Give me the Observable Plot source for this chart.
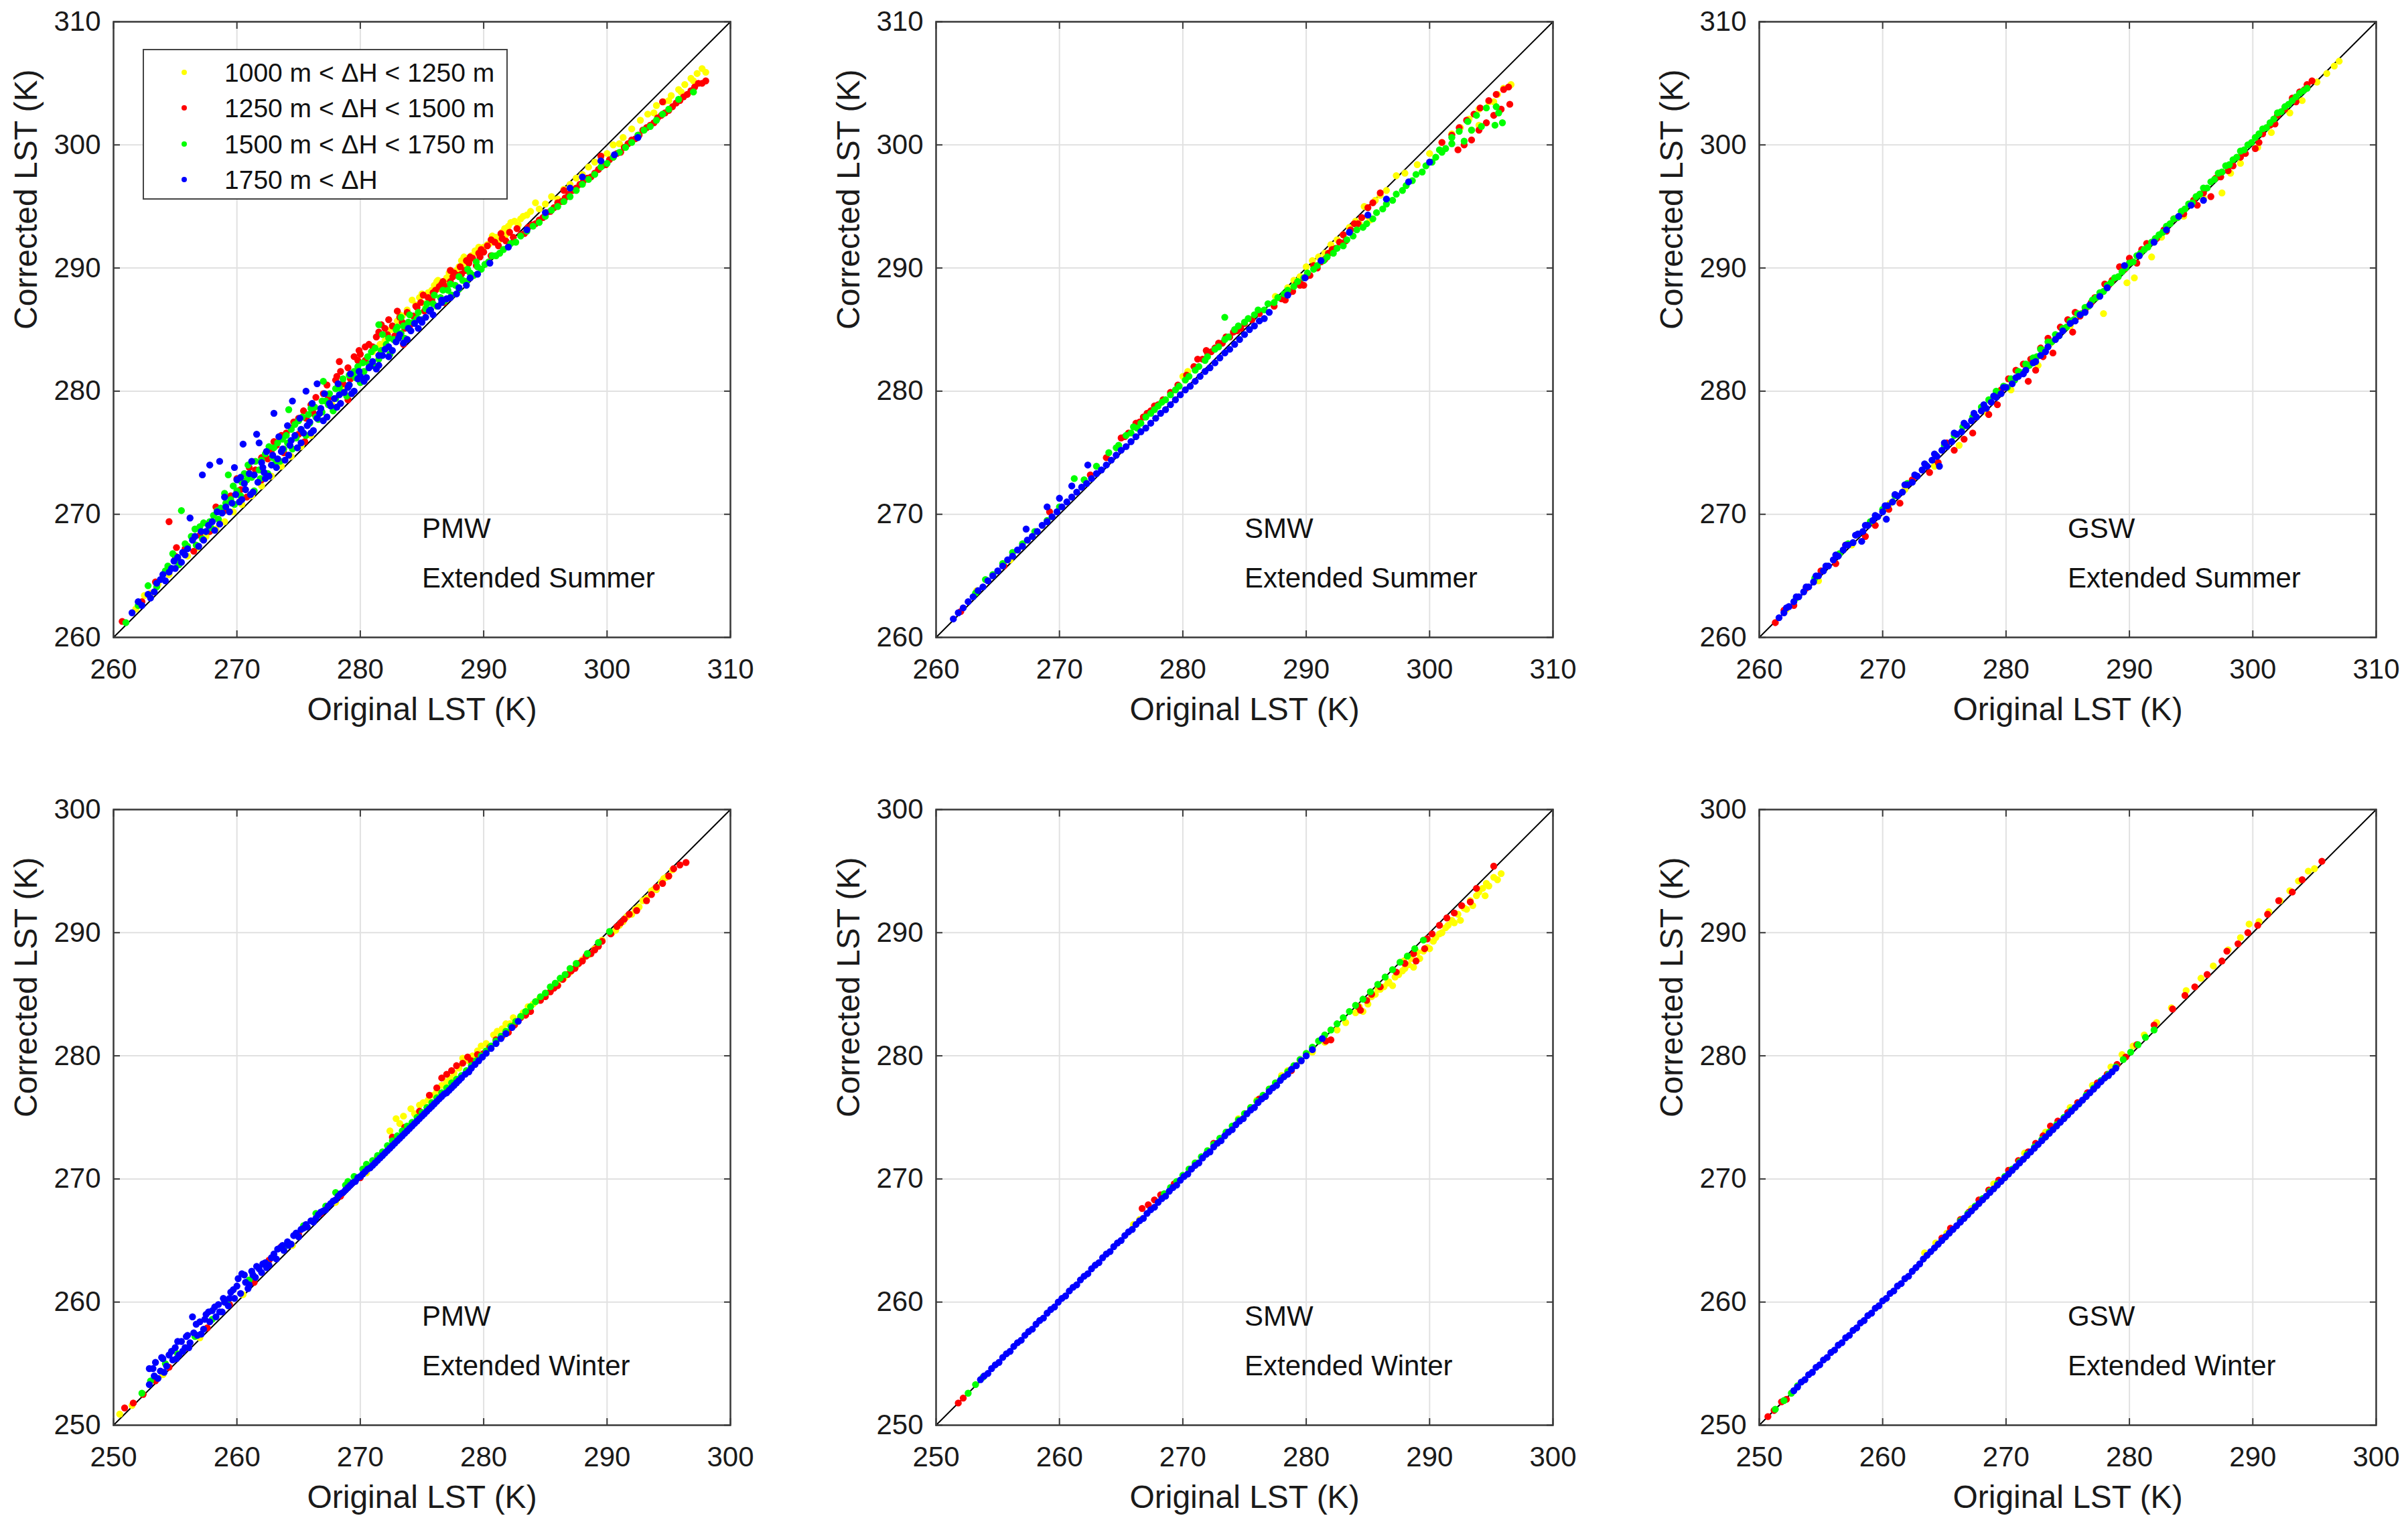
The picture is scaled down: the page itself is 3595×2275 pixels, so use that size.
<!DOCTYPE html>
<html>
<head>
<meta charset="utf-8">
<script src="https://cdn.jsdelivr.net/npm/d3@7"></script>
<script src="https://cdn.jsdelivr.net/npm/@observablehq/plot@0.6"></script>
<style>
html, body { margin: 0; padding: 0; background: #fff; overflow: hidden; }
#fig { position: relative; width: 3595px; height: 2275px; background: #fff; font-family: "Liberation Sans", Arial, sans-serif; }
.panel { position: absolute; }
.panel svg { max-width: none !important; }
#legend { position: absolute; box-sizing: border-box; background: #fff; border: 2.5px solid #444; }
.lg-item { position: absolute; left: 0; height: 0; }
.lg-dot { position: absolute; width: 8px; height: 8px; border-radius: 50%; transform: translate(-50%, -50%); }
.lg-txt { position: absolute; white-space: nowrap; font-size: 39px; color: #111; transform: translateY(-50%); line-height: 1; }
</style>
</head>
<body>
<div id="fig"></div>
<script>
// ---------- labels / categories ----------
const seriesNames = ["1000 m < ΔH < 1250 m", "1250 m < ΔH < 1500 m", "1500 m < ΔH < 1750 m", "1750 m < ΔH"];
const seriesColors = ["#ffff00", "#ff0000", "#00ff00", "#0000ff"];
const methods = ["PMW", "SMW", "GSW"];
const seasons = ["Extended Summer", "Extended Winter"];
const summerTicks = [260, 270, 280, 290, 300, 310];
const winterTicks = [250, 260, 270, 280, 290, 300];
const xLabel = "Original LST (K)";
const yLabel = "Corrected LST (K)";

// ---------- data: flat [original, corrected, original, corrected, ...] ----------
// PMW, Extended Summer
const pmwSum1000 = [261.8,262.3, 262.5,263.4, 263,263.6, 263.6,264.3, 264.5,265.1, 265.2,266.4, 266,266.6, 266.8,267.3, 267.5,268.2, 268.3,268.8, 269,269.4, 269.7,270.2, 270.4,270.8, 271.2,271.5, 272,272.3, 272.8,273.1, 273.6,273.9, 274.4,274.7, 275.2,275.5, 276,276.4, 277.7,278.9, 278.5,280.2, 281,283.2, 282,284.1, 283,285.7, 283.8,286.6, 284.2,287.4, 284.8,287.6, 285.2,287.1, 285.5,288, 286,288.6, 286.5,288.3, 287,289.2, 287.5,289.5, 287.8,289.8, 288,290.1, 288.5,290.3, 289,291, 289.5,291.2, 289.8,291.5, 290,291.7, 290.5,292, 291,292.5, 291.2,292.2, 291.5,292.9, 292,293.4, 292.5,293.8, 292.8,293.5, 293,294, 293.5,294.3, 294.2,295.3, 295.5,295.8, 296.5,296.4, 297.5,297.3, 298.5,298.2, 299.5,299, 300.5,300, 301.3,300.6, 302,301.3, 302.7,302, 303.3,302.5, 303.8,302.6, 304,303.2, 304.6,303.5, 305,303.6, 305.2,304, 305.8,304.5, 306,304.3, 306.3,304.9, 306.8,305.4, 307,305.2, 307.3,305.8, 307.7,306.2, 308,305.9,
  283.4,286.1, 284.5,287, 285.8,288.2, 286.3,289, 286.8,288.9, 287.3,289.8, 288.2,290.6, 288.8,290.7, 289.3,291.4, 290.3,291.9, 290.8,292.3, 291.8,292.7, 293.2,294.2, 293.8,294.6, 294.5,294.8, 295,295.2, 296,295.6, 297,296.8, 298,297.6, 299,298.6, 300,299.3, 301,300.1,
  281.6,283.8, 282.5,285, 283.2,286.2, 285,287.9, 286.2,288.9, 287.2,289.6, 288.4,290.9, 289.6,291.7, 290.7,292.6, 291.7,293.2, 292.2,293.7];
const pmwSum1250 = [260.7,261.3, 262.3,262.9, 263.4,264.5, 264.5,269.4, 265,266.6, 265.1,267.3, 265.8,267.2, 266.5,267, 267,268.3, 267.8,268.6, 268.3,270.6, 269,270.3, 269.5,271.5, 270.3,272, 270.8,271.4, 271.5,273.6, 272,272.8, 272.5,274.5, 273.2,275.6, 273.8,275, 274.4,277, 275,276.5, 275.5,275.9, 275.6,277.8, 276.2,278.2, 276.8,278.5, 277.4,279.4, 278.1,281.2, 278.3,282.4, 278.6,280.6, 279,279.3, 279.2,281, 279.8,282.5, 279.9,283.3, 280.4,282.5, 281,283.6, 281.6,283, 281.7,285.4, 282.2,284.6, 282.8,284.5, 283.4,285.6, 283.5,283.8, 284,285.3, 284.6,286.8, 285.2,286.5, 285.8,287.4, 286.4,288.5, 286.8,287.2, 287,288.5, 287.3,289.8, 287.6,289.6, 288.2,289.5, 288.6,290.6, 288.8,290.4, 289.4,290.2, 289.8,291.5, 290,291.3, 290.6,291, 291.2,291.8, 291.8,292.2, 292.4,292.5, 293,292.7, 293.6,293.3, 294.2,293.6, 294.8,294.1, 295.4,294.6, 296,295.3, 296.5,296.3, 296.6,295.7, 297.2,296.3, 297.8,296.8, 298.4,297.3, 299,297.7, 299.5,299.1, 299.6,298.3, 300.2,298.8, 300.8,299.3, 301.4,299.8, 302,300.4, 302.6,300.8, 303.2,301.4, 303.8,301.8, 304.4,302.4, 304.5,303.5, 305,302.8, 305.6,303.4, 306.2,303.9, 306.8,304.4, 307.4,305, 308,305.2,
  270,272.9, 271,273.8, 272,274.6, 273,275.9, 274,276.6, 275,277.8, 276,278.9, 277,279.8, 278,280.9, 279,281.9, 280,283, 280.7,283.8, 281.3,284.4, 282,285.1, 282.6,285.3, 283.2,286, 283.8,286.4, 284.3,286.1, 284.9,287.2, 285.5,287.6, 286.1,288.2, 286.7,288.9, 287.3,288.9, 287.9,289.4, 288.5,289.8, 289.1,290.8, 289.7,290.9, 290.3,291.8, 290.9,292.1, 291.5,292.4, 292.1,292.9, 292.7,293.2, 293.3,292.8, 293.9,293.5, 294.5,293.9, 295.1,294.5, 295.7,294.9, 296.3,295.4, 296.9,296, 297.5,296.5, 298.1,297.1, 298.7,297.4, 299.3,298, 299.9,298.4, 300.5,299, 301.1,299.4, 301.7,300.1, 302.3,300.5, 302.9,301.2, 303.5,301.6, 304.1,302.2, 304.7,302.6, 305.3,303.1, 305.9,303.6, 306.5,304.1, 307.1,304.7, 307.7,305,
  272.8,275.2, 273.6,276.4, 274.6,277.5, 275.4,278.4, 276.4,279.5, 277.3,280.5, 278.4,281.6, 279.5,282.8, 280.4,283.6, 281.5,284.8, 282.3,285.8, 283,286.5, 283.6,285.1, 284.5,286.9, 285.1,287.8, 285.9,288, 286.6,288.7, 287.5,289.3, 288.1,290.1, 288.9,290.9, 289.6,291.2, 290.6,292.3, 291.4,292.8];
const pmwSum1500 = [261,261.2, 262,262.6, 262.8,264.2, 263.5,264.1, 264.2,265.4, 264.8,266.8, 265.3,265.9, 265.5,270.3, 266,267.4, 266.6,268.8, 267.2,268, 267.8,269.4, 268.4,270.3, 269,271.7, 269.3,273.2, 269.8,270.8, 270.4,272.6, 270.9,274, 271.4,271.9, 272,274.4, 272.5,273.3, 273,275.4, 273.5,274.3, 274,276.4, 274.2,278.5, 274.5,275.3, 275,277.6, 275.6,276.4, 276,278.6, 276.6,277.7, 277,280.8, 277.2,279.2, 277.8,278.4, 278.3,280.3, 278.9,279.6, 279.5,281.6, 280,280.7, 280.6,282.8, 281.2,282, 281.5,285.4, 281.8,284.6, 282.4,283, 283,285.2, 283.3,286, 283.6,284.3, 284.3,285.6, 285,285.8, 285.6,286.6, 286.2,286.9, 286.8,287.3, 287.4,287.8, 288,288.3, 288.6,288.9, 289.2,289.4, 289.8,289.9, 290.4,290.5, 291,291, 291.6,291.5, 292.2,292, 293,292.6, 294,293.4, 295,294.2, 296,295, 297,295.8, 298,296.8, 299,297.6, 300,298.5, 301,299.4, 302,300.2, 303,301.2, 304,302, 305,302.9, 305.8,303.7, 307,304.3,
  264.4,265.8, 265,266.3, 265.8,267.6, 266.3,268.2, 267,269, 267.5,268.6, 268.1,269.9, 268.7,270.5, 269.5,271.2, 270,271.9, 270.6,273.3, 271.2,273, 271.8,273.6, 272.3,274.9, 272.9,274.6, 273.3,275.8, 273.8,275.3, 274.4,276.9, 274.8,276.2, 275.3,277.9, 275.9,277.4, 276.3,278.7, 276.9,278.3, 277.5,279.8, 278,279.4, 278.6,281, 279.1,280.5, 279.8,282, 280.3,281.6, 280.9,283.2, 281.5,282.6, 282.1,283.8, 282.7,284.2, 283.3,284.7, 283.9,285.6, 284.6,285.9, 285.3,286.7, 285.9,287.1, 286.5,287.6, 287.1,288.2, 287.7,288.6, 288.3,289, 288.9,289.6, 289.5,290.1, 290.1,290.3, 290.7,291, 291.3,291.2, 292.6,292.1, 293.5,293, 294.5,293.7, 295.5,294.7, 296.5,295.4, 297.5,296.3, 298.5,297.2, 299.5,298.2, 300.5,299, 301.5,299.8, 302.5,300.8, 303.5,301.5, 304.5,302.5,
  266.7,267.5, 267.3,269.3, 267.9,268.9, 268.5,269.6, 269.1,270.9, 269.7,272.3, 270.3,271.5, 270.8,272.8, 271.5,274.3, 271.9,272.9, 272.6,275.5, 273.1,274.1, 273.7,276.1, 274.1,275.8, 274.7,277.3, 275.2,276.9, 275.8,278.1, 276.4,277.9, 276.9,279.2, 277.4,278.9, 278,280.2, 278.5,279.9, 279.1,281.3, 279.6,281.1, 280.2,282.3, 280.7,282.2, 281.2,283.5, 281.7,283.3, 282.3,284.3, 282.9,285, 283.5,285.3, 284,286.2, 284.7,286.4, 285.4,287.1, 286,287.8, 286.7,288.2, 287.3,288.7, 288,289.3, 288.7,289.9, 289.4,290.5];
const pmwSum1750 = [261.5,262, 262.3,262.6, 263,263.2, 263.5,264.4, 264,265.1, 264.7,265.6, 265.2,266.5, 265.8,266.7, 266.2,269.7, 266.6,268.2, 267.2,273.2, 267.3,267.9, 267.8,274, 268,269.4, 268.6,274.3, 268.6,269.2, 269,271.4, 269.4,270.2, 269.8,273.8, 270,272.8, 270.4,271.2, 270.5,275.7, 271,273.3, 271.3,271.8, 271.6,276.5, 271.8,275.8, 272,274.2, 272.3,272.9, 272.8,274, 273,278.2, 273.2,273.8, 273.7,275.3, 274.2,274.8, 274.5,279.2, 274.7,276.4, 275.2,275.8, 275.6,280, 275.7,277.2, 276.2,276.8, 276.5,280.6, 276.8,278.6, 277.3,277.9, 277.9,279.4, 278.4,279, 279,280.3, 279.5,280, 280,281.2, 280.5,281.1, 281,282.4, 281.5,282.1, 282,283.4, 282.6,283.3, 283.2,284.6, 283.8,284.2, 284.4,285.5, 285,285.6, 285.6,286.5, 286.3,286.9, 287,287.5, 287.8,287.9, 288.6,288.6, 289.5,289.5, 290.5,290.4, 292,291.7, 293.5,293.1, 295,294.5, 297,296.5, 298,297.4, 299.5,298.7, 300.6,299.2, 302.5,300.6,
  262.8,263.5, 263.3,263.7, 264.2,264.6, 264.5,265.3, 265,265.6, 265.5,266.1, 266,267.2, 266.9,267.4, 267.5,268.6, 268.2,268.7, 268.8,270.1, 269.6,270.9, 270.2,271, 270.7,272, 271.1,271.6, 271.7,272.6, 272.2,273.4, 272.6,273.1, 273.3,274.5, 273.9,274.4, 274.3,275.6, 274.9,275.4, 275.4,276.6, 276,276.6, 276.5,277.8, 277,277.6, 277.6,278.8, 278.1,278.7, 278.7,279.9, 279.3,279.8, 279.8,281, 280.3,280.8, 280.8,282, 281.3,281.8, 281.8,282.9, 282.3,282.8, 282.9,284, 283.5,283.9, 284.1,284.9, 284.7,285.1, 285.3,286, 285.9,286.2, 286.6,287.2, 287.3,287.6, 288,288.4, 288.9,289.2,
  270.3,273, 271.2,274.3, 272.4,275.1, 273.4,276.3, 274.1,277.2, 275.1,277.8, 276.1,279, 277.1,279.8, 278.2,280.6, 279.2,281.4,
  262,262.9, 263.8,264.7, 264.9,266.2, 265.6,266.9, 266.4,267.9, 267.1,268.6, 267.7,269.1, 268.4,270.2, 269.1,270.6, 269.9,271.6, 270.6,272.5, 271.4,273.2, 272.1,273.8, 272.9,274.8, 273.6,275.1, 274.4,276, 275.2,276.9, 275.9,277.5, 276.7,278.2, 277.5,279, 278.3,279.7, 279.1,280.5, 279.9,281.6, 280.7,281.9, 281.5,282.9, 282.3,283.6, 283.1,284.3, 283.9,285.1, 284.8,285.8, 285.7,286.6, 286.6,287.4];

// SMW, Extended Summer
const smwSum1000 = [263.3,263.8, 266,266.3, 280,281.2, 280.4,281.6, 284.5,285.2, 287.5,287.7, 288.5,288.4, 289.5,289.3, 290.5,290.6, 291.5,291.2, 292.5,292.3, 293.5,293.3, 294.3,293.6, 294.7,295, 295.2,293.9, 295.6,295.5, 297.3,297.5, 302.5,301.4, 303.2,302.1, 303.4,301.2, 304,302.9, 304,301.6, 304.8,303.5, 305.5,304.1, 306,304.6, 306.6,304.9,
  289,289, 290,290.1, 291,290.9, 292,291.9, 293,292.7, 294,293.8, 295,294.2, 296,295.9, 296.5,296.3, 298,297.7, 299,298.4, 300,299.3, 301,300.2, 301.8,300.9, 305.2,303.5];
const smwSum1250 = [262,262.1, 265.5,265.8, 269.2,270.2, 272.5,273.2, 273.8,274.6, 275,276.2, 275.6,276.6, 276.2,277.4, 276.8,277.9, 277.4,278.4, 278,278.9, 281.2,282.6, 281.6,282.6, 282,283.1, 282.6,283.5, 283.2,283.9, 283.8,284.4, 284.4,284.9, 285,285.5, 285.6,285.8, 286.2,286.3, 287.4,286.9, 288,287.5, 288.6,288, 289.2,288.7, 289.5,288.8, 289.8,288.6, 290,289.3, 290.6,290.2, 291.2,290.5, 291.8,291.2, 292.4,291.6, 293,292.7, 293.2,292.2, 293.6,293.1, 294.2,293.6, 295,294.9, 296,296.1, 301,300.2, 301.8,300.8, 302.4,301.4, 303,302, 303.6,302.5, 304.1,303, 304.8,303.6, 305.4,304.1, 306,304.5, 306.4,304.7, 302.3,299.6, 302.8,300, 303.4,300.4, 304,301.2, 304.6,301.8, 305.2,302.4, 305.8,302.9, 306.5,303.3,
  275.3,276.3, 276.5,277.5, 277.1,278.2, 277.7,278.8, 278.4,279.3, 279,279.9, 279.6,280.5, 280.3,281.3, 280.9,282, 281.9,283.3, 282.3,283.2, 282.9,283.9, 283.5,284.4, 284.1,284.8, 284.7,285.1, 288.3,287.4, 288.9,288.1, 289.5,288.6, 290.3,289.4, 290.9,290, 291.5,290.7, 292.1,291.5, 292.7,292.1, 293.9,293.6, 294.5,294.1, 295.4,295.3];
const smwSum1500 = [263.2,263.6, 264,264.7, 264.6,265.1, 265.4,266, 266.2,266.9, 267,267.6, 268,268.6, 269,269.5, 270,270.6, 271.2,272.9, 272,272.8, 273,273.9, 274,275, 274.6,275.4, 275.4,276.4, 276,277.1, 276.6,277.4, 277.4,278.2, 278,278.8, 278.6,279.3, 279.4,280.1, 280.2,280.9, 281,281.7, 281.8,282.5, 282.6,283.4, 283.4,286, 283.4,284.2, 284.2,285, 285,285.6, 285.8,286.2, 286.6,286.6, 287.4,287.2, 288.2,287.9, 289,288.5, 289.8,289.2, 290.6,289.9, 291.4,290.6, 292.2,291.2, 293,291.8, 293.8,292.6, 294.6,293.3, 295.4,294, 296.2,294.8, 297,295.5, 297.8,296.3, 298.6,297.1, 299.4,297.8, 300.2,298.6, 301,299.4, 301.8,300.1, 302.8,300.3, 303.4,301.2, 304.2,301.5, 305.3,301.6, 305.6,302.6,
  274.8,275.6, 275.8,276.6, 276.3,277, 277,277.9, 277.7,278.5, 278.3,279.1, 279,279.7, 279.7,280.4, 280.5,281.2, 281.3,282, 282,282.8, 282.9,283.6, 283.7,284.4, 284.5,285.3, 285.3,285.9, 286.1,286.6, 286.9,287.1, 287.7,287.6, 288.5,288.2, 289.3,288.9, 290.1,289.6, 290.9,290.2, 291.7,290.9, 292.5,291.6, 293.3,292.3, 294.1,293.1, 294.9,293.6, 295.7,294.5, 296.5,295.2, 297.3,296, 298.1,296.7, 298.9,297.6, 299.7,298.3, 300.5,299, 301.3,299.7, 300.8,299.6, 301.8,300.6, 302.4,301.1, 303.1,301.9, 303.8,302.4, 304.6,303, 305.4,303.1, 305.9,301.8];
const smwSum1750 = [261.4,261.5, 261.8,262, 262.2,262.4, 262.6,262.9, 263,263.3, 263.4,263.8, 263.8,264.1, 264.2,264.6, 264.6,265, 265,265.4, 265.4,265.8, 265.8,266.3, 266.2,266.6, 266.6,267.1, 267,267.4, 267.3,268.8, 267.4,267.9, 267.8,268.2, 268.2,268.6, 268.6,269.1, 269,269.4, 269,270.6, 269.4,269.8, 269.8,270.2, 270,271.3, 270.2,270.6, 270.6,271, 271,271.4, 271,272.3, 271.4,271.8, 271.8,272.2, 272.2,272.5, 272.3,274, 272.6,272.9, 273,273.3, 273.4,273.6, 273.8,274, 274.2,274.4, 274.6,274.8, 275,275.2, 275.4,275.5, 275.8,275.9, 276.2,276.3, 276.6,276.7, 277,277, 277.4,277.4, 277.8,277.8, 278.2,278.2, 278.6,278.5, 279,278.9, 279.4,279.3, 279.8,279.7, 280.2,280.1, 280.6,280.4, 281,280.8, 281.4,281.2, 281.8,281.6, 282.2,281.9, 282.6,282.3, 283,282.7, 283.4,283.1, 283.8,283.4, 284.2,283.8, 284.6,284.2, 285,284.6, 285.4,285, 285.8,285.3, 286.2,285.7, 286.6,285.9, 287,286.4, 288.5,287.8, 289.9,289.2, 291.2,290.6, 293.5,292.9, 295,294.3, 296.5,295.6, 298.3,297, 300,298.6];

// GSW, Extended Summer
const gswSum1000 = [262.2,262.3, 264.8,264.6, 267.5,267.5, 270.6,270.9, 271.8,272, 274.2,273.9, 276.2,275.6, 278.5,278.2, 280.4,280.1, 282.6,282.1, 283.6,283.9, 285.2,285.3, 287.9,286.3, 289.8,288.8, 290.4,289.2, 291.8,290.9, 292.6,292.5, 294.4,294.2, 296,295.7, 297.5,296.1, 298.2,297.7, 299,298.5, 300.4,299.8, 301.5,301, 303,302.6, 304,303.6, 305.2,305.1, 306,305.8, 306.6,306.4, 307,306.8];
const gswSum1250 = [261.3,261.2, 262.8,262.6, 265,265.4, 266.2,266, 268.6,268.2, 269.4,269.1, 271.4,270.9, 272.4,272.8, 273.8,273.4, 275.2,275.8, 275.8,275.2, 276.6,276.1, 277.3,276.6, 277.5,277.9, 278.6,278.1, 279.3,278.9, 280.2,281, 280.8,281.7, 281.4,282.2, 281.8,280.8, 282,282.6, 282.4,281.7, 282.8,283.5, 283.4,284.3, 283.8,283.1, 284.4,285.2, 285,285.8, 285.4,284.8, 285.6,286.4, 286.4,286.5, 287.2,287.6, 288,288.7, 288.6,289, 289.2,290.1, 290,290.8, 290.6,290.4, 291.4,292, 292.2,292.4, 293,293, 293.6,294, 294.4,294.4, 295.2,295.5, 296,296.1, 296.6,295.8, 297.4,297.4, 298.4,298.3, 299.4,299.3, 300.2,299.7, 300.8,300.9, 301.4,301.6, 302,302.4, 302.6,302.9, 303.2,303.8, 303.8,304.3, 304.4,304.9, 304.8,305.2,
  262,262.2, 263.8,264, 267,267.5, 270.5,270.4, 274.5,274.2, 279.6,280.1, 283,282.8, 286,286.1, 286.9,287.2, 288.3,288.6, 289.6,289.9, 291,291.5, 292.8,293.1, 295.5,295.1, 297,297.3, 298,297.9, 299,299, 300.5,300.2, 301.8,301.7, 303.5,303.5, 304.2,304.5];
const gswSum1500 = [264.5,264.8, 265.5,265.8, 266.5,266.8, 268,268.4, 270,270.4, 272,272.5, 273.5,274, 275,275.6, 276.5,277.1, 278,278.7, 278.6,279.3, 279.2,280, 279.8,280.4, 280.4,281, 281,281.6, 281.6,282.2, 282.2,282.7, 282.8,283.4, 283.4,284, 284,284.6, 284.6,285.1, 285.2,285.7, 285.8,286.3, 286.4,286.8, 287,287.4, 287.6,288, 288.2,288.6, 288.8,289.2, 289.4,289.7, 290,290.4, 290.6,291, 291.2,291.5, 291.8,292.1, 292.4,292.7, 293,293.4, 293.6,294, 294.2,294.6, 294.8,295.2, 295.4,295.8, 296,296.5, 296.6,297, 297.2,297.7, 297.8,298.3, 298.4,298.8, 299,299.5, 299.6,300, 300.2,300.6, 300.8,301.3, 301.4,301.8, 302,302.6, 302.6,303.1, 303.2,303.6, 303.8,304.2, 304.4,304.6,
  263,263.2, 267.2,267.6, 269,269.4, 271,271.5, 274.3,274.8, 275.8,276.4, 277.3,277.9,
  279.5,279.8, 280.1,280.3, 280.7,280.9, 281.3,281.5, 281.9,282.1, 282.5,282.8, 283.1,283.3, 283.7,284, 284.3,284.5, 284.9,285.2, 285.5,285.8, 286.1,286.3, 286.7,286.9, 287.3,287.6, 287.9,288.1, 288.5,288.8, 289.1,289.3, 289.7,290, 290.3,290.5, 290.9,291.2, 291.5,291.7, 292.1,292.4, 292.7,292.9, 293.3,293.6, 293.9,294.1, 294.5,294.8, 295.1,295.3, 295.7,296, 296.3,296.5, 296.9,297.2, 297.5,297.8, 298.1,298.4, 298.7,299, 299.3,299.6, 299.9,300.2, 300.5,300.9, 301.1,301.4, 301.7,302.1, 302.3,302.7, 302.9,303.3, 303.5,303.9, 304.1,304.4];
const gswSum1750 = [261.6,261.6, 262,262, 262.4,262.5, 262.8,262.9, 263.2,263.3, 263.6,263.7, 264,264.1, 264.4,264.5, 264.8,265, 265.2,265.4, 265.6,265.8, 266,266.3, 266.4,266.6, 266.8,267.1, 267.2,267.5, 267.6,267.7, 268,268.4, 268.3,267.8, 268.4,268.6, 268.8,269.1, 269.2,269.5, 269.6,269.8, 270,270.2, 270.3,269.6, 270.4,270.7, 270.8,271, 271.2,271.5, 271.6,271.8, 272,272.4, 272.4,272.6, 272.8,273.1, 273.2,273.6, 273.6,273.9, 274,274.4, 274.4,274.7, 274.6,273.9, 274.8,275.2, 275.2,275.5, 275.6,275.9, 276,276.5, 276.4,276.7, 276.8,277.2, 277.2,277.6, 277.6,277.9, 278,278.4, 278.4,278.6, 278.8,279.1, 279.2,279.5, 279.6,279.8, 280,280.3, 280.5,280.6, 281,281.2, 281.6,281.7, 282.2,282.3, 282.8,282.9, 283.4,283.6, 284,284.2, 284.6,284.9, 285.2,285.5, 286,286.2, 286.8,287, 287.6,287.7, 289.6,290.2, 292,292.1, 294,294.2, 296,295.5,
  262.2,262.4, 263,263.3, 263.8,264.1, 264.6,265, 265.4,265.8, 266.2,266.7, 267,267.5, 267.8,268.3, 268.6,269.1, 269.4,269.9, 270.2,270.7, 271,271.6, 271.8,272.4, 272.6,273.2, 273.4,274.1, 274.2,274.9, 275,275.8, 275.8,276.6, 276.6,277.4, 277.4,278.2, 278.2,278.9, 279,279.6, 279.8,280.3, 280.8,281.1, 281.4,281.4, 282.4,282.4, 283.2,283.2, 284.3,284.5, 285.6,285.7, 286.4,286.4, 288.2,288.4, 290.8,291, 293,293.1, 295,295.1];

// PMW, Extended Winter
const pmwWin1000 = [250.5,250.9, 251.5,251.6, 254,254.1, 257,257.1, 260.5,260.6, 264.5,264.6, 268,268.1, 270.5,270.5, 272.4,273.9, 272.9,274.9, 273.5,275.1, 274.1,275.7, 274.8,276, 275.5,276.4, 276.2,277.1, 277,277.9, 277.6,278.6, 278.3,279.8, 278.8,279.6, 279.5,280.4, 280.2,281, 280.8,281.7, 281.5,282.2, 282.4,283.1, 283.2,283.5, 284,284.2, 285,284.9, 286,285.8, 287,286.8, 288,287.8, 289,288.7, 289.6,289.4, 290.4,290, 291,290.6, 291.6,291.3, 292,291.5, 292.6,292.1, 293.2,292.8, 293.6,293.4, 294,293.5, 294.4,294.1, 294.8,294.5, 295.3,295.1,
  273.2,274.5, 274.4,275.3, 275.1,276.2, 275.9,276.8, 276.6,277.6, 277.3,278.2, 278,279, 279.1,280, 279.8,280.8, 281.1,282, 281.8,282.6, 282.1,282.6, 283.6,284, 284.5,284.6, 285.5,285.4, 286.5,286.3, 287.5,287.3, 288.5,288.2, 290.7,290.2, 291.3,290.9, 292.3,291.9, 292.9,292.6, 293.9,293.6, 294.6,294.4, 295,294.6];
const pmwWin1250 = [250.9,251.4, 251.6,251.8, 252.4,252.5, 253.4,253.6, 254.5,254.7, 256,256.3, 257.6,257.9, 259.4,259.8, 261.4,261.6, 262.6,263.4, 263.6,264.5, 265,265.5, 266.8,267.2, 268.4,268.6, 270,270.1, 271.4,271.8, 272.6,273.4, 273.6,274.2, 274.8,275.5, 275.6,276.8, 276.2,277.4, 276.6,278.2, 277.4,278.8, 278.3,279.4, 279,279.6, 280,280.2, 281,281.3, 282,281.9, 283,283.1, 283.8,283.6, 284.6,284.5, 285.4,285.2, 286,285.7, 286.8,286.6, 287.4,287.1, 288,287.7, 288.7,288.3, 289.3,288.9, 290.3,289.9, 290.8,290.5, 291.4,291.1, 292.4,291.8, 293.2,292.6, 294.5,294, 295.4,295.2, 296.4,295.7,
  277,278.5, 277.8,279.2, 278.7,279.9, 279.5,280.1, 280.5,280.7, 281.5,281.6, 282.5,282.5, 283.4,283.3, 285,284.8, 285.7,285.5, 286.4,286.2, 287.1,286.9, 287.7,287.5, 288.3,288.1, 289,288.6, 289.6,289.3, 291.1,290.8, 291.8,291.5, 293.6,293.1, 294,293.7, 295,294.6, 295.9,295.5];
const pmwWin1500 = [252.3,252.6, 253,253.6, 254.2,255, 255.2,255.8, 256.6,257.2, 258,258.6, 259.2,259.9, 261,261.8, 262.4,263.1, 264,264.6, 265.4,266.2, 266.4,267.2, 267.2,267.8, 268,268.9, 268.8,269.5, 269.5,270.2, 270.2,270.8, 271,271.5, 271.8,272.2, 272.6,273.1, 273.4,273.9, 274.2,274.6, 275,275.4, 275.8,276.2, 276.6,277, 277.4,277.8, 278.2,278.4, 279,279.2, 279.8,280, 280.6,280.8, 281.4,281.6, 282.2,282.4, 283,283.2, 283.8,284, 284.6,284.8, 285.4,285.6, 286.2,286.3, 287,287.1, 290.2,290.1,
  269,269.8, 270.5,271.2, 271.4,271.9, 272.2,272.7, 273,273.5, 273.8,274.3, 274.6,275, 275.4,275.8, 276.2,276.6, 277,277.4, 277.8,278.1, 278.6,278.8, 279.4,279.6, 280.2,280.4, 281,281.2, 281.8,282, 282.6,282.8, 283.4,283.6, 284.2,284.4, 285,285.1, 285.8,285.9, 286.6,286.6, 287.5,287.5, 288.4,288.3, 289.3,289.2];
const pmwWin1750 = [252.9,253.3, 252.9,254.6, 253.3,254, 253.4,255.1, 253.8,254.4, 253.9,255.5, 254.3,254.8, 254.5,255.7, 254.8,255.3, 255,256.3, 255.3,255.7, 255.5,256.8, 255.8,256.3, 256,257.3, 256.2,256.7, 256.4,258.8, 256.5,257.5, 256.8,257.3, 257,258.4, 257.3,257.8, 257.5,259, 257.8,258.4, 258,259.3, 258.3,258.8, 258.5,259.8, 258.8,259.2, 259,260, 259.3,259.7, 259.5,260.8, 259.8,260.3, 260,261.3, 260.3,260.7, 260.4,262.3, 260.7,261.6, 261,261.4, 261.2,262.5, 261.5,262, 261.8,262.7, 262,262.4, 262.3,263.2, 262.6,263, 263,263.9, 263.2,263.5, 263.5,264.4, 263.8,264.2, 264.1,264.9, 264.4,264.7, 264.8,265.6, 265,265.3, 265.4,266, 265.7,266.1, 266,266.6, 266.4,266.8, 266.8,267.3, 267.2,267.5, 267.6,268, 268,268.3, 268.4,268.8, 268.8,269.1, 269.2,269.5, 269.6,269.8, 270,270.2, 270.4,270.6, 270.8,270.9, 271.2,271.3, 271.6,271.7, 272,272.1, 272.4,272.5, 272.8,272.9, 273.2,273.3, 273.6,273.7, 274,274.1, 274.4,274.5, 274.8,274.9, 275.2,275.3, 275.6,275.7, 276,276.1, 276.4,276.5, 276.8,276.9, 277.2,277.2, 277.6,277.6, 278,278, 278.5,278.5, 279,279, 279.6,279.6, 280.2,280.2, 281,281, 281.8,281.8, 282.8,282.8,
  253.2,254.6, 253.6,253.8, 254,255.4, 254.1,254.3, 254.7,256, 255.1,255.4, 255.2,256.8, 255.6,256, 255.9,257.2, 256.1,256.3, 256.7,258.2, 257.1,257.4, 257.4,258.6, 257.7,259.2, 258.2,259.6, 258.6,259.2, 258.9,260.3, 259.4,260.3, 259.7,261, 260.1,261.9, 260.6,262.2, 260.9,261.1, 261.3,262.2, 261.6,262.9, 262.1,263.1, 262.4,262.8, 262.8,263.6, 263.3,264.3, 263.7,264.6, 264.2,264.6, 264.6,265.4, 265.2,265.9, 265.6,266.3, 266.2,266.5, 266.6,267.1, 267,267.4, 267.4,267.8, 267.8,268.2, 268.2,268.6, 268.6,268.9, 269,269.3, 269.4,269.7, 269.8,270.1, 270.2,270.4, 270.6,270.8, 271,271.1, 271.4,271.5, 271.8,271.9, 272.2,272.3, 272.6,272.7, 273,273.1, 273.4,273.5, 273.8,273.9, 274.2,274.3, 274.6,274.7, 275,275.1, 275.4,275.5, 275.8,275.9, 276.2,276.3, 276.6,276.7, 277,277, 277.4,277.4, 277.8,277.8, 278.2,278.2, 278.8,278.7, 279.3,279.3, 279.9,279.9, 280.6,280.6, 281.4,281.4, 282.3,282.3];

// SMW, Extended Winter
const smwWin1000 = [266,266.3, 266.5,266.7, 271,271.3, 274.5,274.9, 275,275.3, 275.5,275.8, 276,276.4, 277,277.3, 278,278.4, 278.5,278.8, 279.5,279.6, 280.5,280.3, 281.5,281.1, 282.5,282.1, 283.2,282.7, 284,283.5, 284.6,283.6, 285.3,284.8, 285.8,285.4, 286,285.4, 286.6,285.9, 286.7,286, 287,285.7, 287.2,286.4, 287.8,286.9, 287.9,287.7, 288.3,287.4, 288.7,287.2, 289,288.4, 289.2,287.9, 289.8,288.8, 290,288.7, 290.3,289.3, 290.8,289.9, 291,290, 291.3,290.4, 291.8,291, 292.3,291.5, 292.5,291, 292.8,292, 293.3,292.6, 293.8,293, 294.3,293.6, 294.5,293, 294.6,294, 295.2,294.5, 295.8,294.8,
  284.3,284, 285,284.2, 285.6,285, 286.3,285.6, 287.5,286.6, 288,287.1, 288.5,287.9, 289.5,288.5, 290.5,289.6, 291.5,290.6, 292,290.8, 293,291.9, 293.5,292.2, 294,293.3, 294.8,293.8, 295.5,294.3];
const smwWin1250 = [251.8,251.8, 252.2,252.2, 266.7,267.6, 267.2,267.9, 267.7,268.3, 268.2,268.7, 269.3,269.6, 272.5,272.9, 276.2,276.5, 278.8,278.8, 281.6,281.2, 282,281.3, 284.2,284, 284.4,283.7, 284.9,284.5, 285.3,285, 286,285.6, 287.3,286.8, 288,287.5, 288.7,288.3, 288.9,287.7, 289.6,288.7, 289.8,289.5, 290.2,289.9, 290.8,290.6, 291.4,291.2, 292,291.6, 292.6,292.2, 293.3,292.5, 293.8,293.6, 295.2,295.4];
const smwWin1500 = [252.6,252.6, 253.2,253.3, 253.8,253.9, 268.5,268.8, 269,269.3, 269.5,269.8, 270,270.3, 270.5,270.8, 271,271.3, 271.5,271.8, 272,272.3, 272.5,272.8, 273,273.3, 273.5,273.8, 274,274.3, 274.5,274.8, 275,275.3, 275.5,275.8, 276,276.3, 276.5,276.8, 277,277.3, 277.5,277.8, 278,278.2, 278.5,278.7, 279,279.2, 279.5,279.7, 280,280.2, 280.5,280.7, 281,281.2, 281.5,281.7, 282,282.1, 282.5,282.6, 283,283.1, 283.5,283.6, 284,284.1, 284.6,284.6, 285.2,285.2, 285.8,285.8, 286.4,286.4, 287,287, 287.6,287.6, 288.2,288.1, 288.8,288.7, 289.5,289.4];
const smwWin1750 = [253.6,253.7, 253.9,254, 254.2,254.2, 254.5,254.6, 254.8,254.9, 255.1,255.1, 255.4,255.5, 255.7,255.8, 256,256, 256.3,256.4, 256.6,256.7, 256.9,256.9, 257.2,257.3, 257.5,257.6, 257.8,257.8, 258.1,258.2, 258.4,258.5, 258.7,258.7, 259,259.1, 259.3,259.4, 259.6,259.6, 259.9,260, 260.2,260.3, 260.5,260.5, 260.8,260.9, 261.1,261.2, 261.4,261.4, 261.7,261.8, 262,262.1, 262.3,262.3, 262.6,262.7, 262.9,263, 263.2,263.2, 263.5,263.6, 263.8,263.9, 264.1,264.1, 264.4,264.5, 264.7,264.8, 265,265, 265.3,265.4, 265.6,265.7, 265.9,265.9, 266.2,266.3, 266.5,266.6, 266.8,266.8, 267.1,267.2, 267.4,267.5, 267.7,267.7, 268,268.1, 268.3,268.4, 268.6,268.6, 268.9,269, 269.2,269.3, 269.5,269.5, 269.8,269.9, 270.1,270.2, 270.4,270.4, 270.7,270.8, 271,271.1, 271.3,271.3, 271.6,271.7, 271.9,272, 272.2,272.2, 272.5,272.6, 272.8,272.9, 273.1,273.1, 273.4,273.5, 273.7,273.8, 274,274, 274.3,274.4, 274.6,274.7, 274.9,274.9, 275.2,275.3, 275.5,275.6, 275.8,275.8, 276.1,276.2, 276.4,276.5, 276.7,276.7, 277,277.1, 277.3,277.4, 277.6,277.6, 277.9,278, 278.2,278.3, 278.5,278.5, 278.8,278.9, 279.2,279.2, 279.6,279.6, 280,280, 280.5,280.5, 281.3,281.4];

// GSW, Extended Winter
const gswWin1000 = [263.4,264, 264.3,264.8, 265.2,265.6, 267.2,267.6, 269,269.6, 271.5,272.1, 273.2,273.8, 275.2,275.8, 277,277.6, 278.5,279.1, 279.4,280.1, 280.3,280.8, 281.2,281.7, 282.2,282.7, 283.4,283.9, 284.6,285.3, 285.8,286.3, 286.8,287.3, 288,288.6, 289,289.6, 289.7,290.7, 290.5,290.9, 291.3,291.7, 292.2,292.6, 293,293.4, 293.7,294.2, 294.5,295, 295,295.2];
const gswWin1250 = [250.7,250.7, 251.2,251.2, 251.8,251.9, 252.2,252.1, 264.8,265.2, 265.5,266, 266.3,266.7, 267,267.3, 267.8,268.3, 268.6,269.1, 269.4,269.9, 270.2,270.7, 271,271.5, 271.8,272.2, 272.4,272.9, 273,273.5, 273.6,274.3, 274.2,274.7, 275,275.4, 275.8,276.2, 276.6,277, 277.4,277.8, 278.2,278.5, 279,279.3, 279.7,279.9, 280.6,280.9, 282,282.5, 283.5,283.8, 284.5,284.9, 285.3,285.6, 286.3,286.6, 287.5,287.7, 287.9,288.5, 288.8,289.1, 289.6,290, 290.4,290.6, 291.2,291.5, 292.1,292.6, 293.2,293.3, 294,294.3, 295.6,295.8];
const gswWin1500 = [251.3,251.3, 252,252, 252.6,252.6, 253.1,253.2, 266.3,266.6, 266.9,267.2, 267.5,267.8, 268.1,268.4, 268.7,269, 269.3,269.6, 269.9,270.2, 270.5,270.8, 271.1,271.4, 271.7,272, 272.3,272.6, 272.9,273.2, 273.5,273.8, 274.1,274.4, 274.7,275, 275.3,275.6, 275.9,276.1, 276.5,276.8, 277.1,277.4, 277.7,278, 278.3,278.5, 278.9,279.1, 279.5,279.7, 280.1,280.3, 280.7,280.9, 281.3,281.5, 282,282.1];
const gswWin1750 = [252.8,252.8, 253.1,253.1, 253.4,253.5, 253.7,253.7, 254,254.1, 254.3,254.3, 254.6,254.7, 254.9,254.9, 255.2,255.3, 255.5,255.5, 255.8,255.9, 256.1,256.1, 256.4,256.5, 256.7,256.7, 257,257.1, 257.3,257.3, 257.6,257.7, 257.9,257.9, 258.2,258.3, 258.5,258.5, 258.8,258.9, 259.1,259.1, 259.4,259.5, 259.7,259.7, 260,260.1, 260.3,260.3, 260.6,260.7, 260.9,260.9, 261.2,261.3, 261.5,261.5, 261.8,261.9, 262.1,262.1, 262.4,262.5, 262.7,262.8, 263,263.1, 263.3,263.5, 263.6,263.8, 263.9,264.1, 264.2,264.4, 264.5,264.7, 264.8,265, 265.1,265.3, 265.4,265.6, 265.7,265.9, 266,266.2, 266.3,266.5, 266.6,266.8, 266.9,267.1, 267.2,267.4, 267.5,267.7, 267.8,268, 268.1,268.3, 268.4,268.6, 268.7,268.9, 269,269.2, 269.3,269.5, 269.6,269.8, 269.9,270.1, 270.2,270.4, 270.5,270.7, 270.8,271, 271.1,271.3, 271.4,271.6, 271.7,271.9, 272,272.2, 272.3,272.5, 272.6,272.8, 272.9,273.1, 273.2,273.4, 273.5,273.7, 273.8,274, 274.1,274.3, 274.4,274.6, 274.7,274.9, 275,275.2, 275.3,275.5, 275.6,275.8, 275.9,276.1, 276.2,276.4, 276.5,276.7, 276.8,277, 277.1,277.3, 277.4,277.6, 277.7,277.9, 278,278.2, 278.3,278.4, 278.6,278.7, 278.9,279];

// ---------- layout ----------
const FONT = '"Liberation Sans", Arial, Helvetica, sans-serif';
const plotLefts = [169, 1397, 2626];
const plotTops = [32, 1208];
const plotW = 921, plotH = 919;
const mL = 160, mR = 60, mT = 30, mB = 150;
const dotR = 5.2;

const panels = [
  {row: 0, col: 0, method: methods[0], season: seasons[0], ticks: summerTicks, series: [pmwSum1000, pmwSum1250, pmwSum1500, pmwSum1750]},
  {row: 0, col: 1, method: methods[1], season: seasons[0], ticks: summerTicks, series: [smwSum1000, smwSum1250, smwSum1500, smwSum1750]},
  {row: 0, col: 2, method: methods[2], season: seasons[0], ticks: summerTicks, series: [gswSum1000, gswSum1250, gswSum1500, gswSum1750]},
  {row: 1, col: 0, method: methods[0], season: seasons[1], ticks: winterTicks, series: [pmwWin1000, pmwWin1250, pmwWin1500, pmwWin1750]},
  {row: 1, col: 1, method: methods[1], season: seasons[1], ticks: winterTicks, series: [smwWin1000, smwWin1250, smwWin1500, smwWin1750]},
  {row: 1, col: 2, method: methods[2], season: seasons[1], ticks: winterTicks, series: [gswWin1000, gswWin1250, gswWin1500, gswWin1750]}
];

function pairs(flat) {
  const out = [];
  for (let i = 0; i + 1 < flat.length; i += 2) out.push({x: flat[i], y: flat[i + 1]});
  return out;
}

const fig = document.getElementById("fig");
const frameColor = "#3a3a3a";
const gridColor = "#e1e1e1";

for (const p of panels) {
  const lo = p.ticks[0], hi = p.ticks[p.ticks.length - 1];
  const inward = {tickSize: -10, tickFormat: () => "", label: null, stroke: frameColor, strokeWidth: 2};
  const W = mL + plotW + mR, H = mT + plotH + mB;
  const chart = Plot.plot({
    width: W,
    height: H,
    marginLeft: mL, marginRight: mR, marginTop: mT, marginBottom: mB,
    style: {fontFamily: FONT, background: "transparent", overflow: "visible", maxWidth: "none"},
    x: {domain: [lo, hi]},
    y: {domain: [lo, hi]},
    marks: [
      Plot.gridX(p.ticks, {stroke: gridColor, strokeOpacity: 1, strokeWidth: 2}),
      Plot.gridY(p.ticks, {stroke: gridColor, strokeOpacity: 1, strokeWidth: 2}),
      Plot.line([[lo, lo], [hi, hi]], {stroke: "#000", strokeWidth: 2}),
      ...p.series.map((s, i) => Plot.dot(pairs(s), {x: "x", y: "y", r: dotR, fill: seriesColors[i], stroke: null})),
      Plot.axisX(p.ticks, {anchor: "bottom", ...inward}),
      Plot.axisX(p.ticks, {anchor: "top", ...inward}),
      Plot.axisY(p.ticks, {anchor: "left", ...inward}),
      Plot.axisY(p.ticks, {anchor: "right", ...inward}),
      Plot.axisX(p.ticks, {anchor: "bottom", tickSize: 0, tickPadding: 32, fontSize: 42, fill: "#1a1a1a", label: null, tickFormat: d => String(d)}),
      Plot.axisY(p.ticks, {anchor: "left", tickSize: 0, tickPadding: 19, fontSize: 42, fill: "#1a1a1a", label: null, tickFormat: d => String(d)}),
      Plot.frame({stroke: frameColor, strokeWidth: 2.5}),
      Plot.text([{x: lo + 25, y: lo + 8.8, t: p.method}, {x: lo + 25, y: lo + 4.8, t: p.season}],
        {x: "x", y: "y", text: "t", textAnchor: "start", lineAnchor: "middle", fontSize: 42, fill: "#111"}),
      Plot.text([xLabel], {text: d => d, frameAnchor: "bottom", dy: 108, lineAnchor: "middle", fontSize: 48, fill: "#1a1a1a"}),
      Plot.text([yLabel], {text: d => d, frameAnchor: "left", dx: -130, rotate: -90, lineAnchor: "middle", fontSize: 48, fill: "#1a1a1a"})
    ]
  });
  const wrap = document.createElement("div");
  wrap.className = "panel";
  wrap.style.left = (plotLefts[p.col] - mL) + "px";
  wrap.style.top = (plotTops[p.row] - mT) + "px";
  wrap.style.width = W + "px";
  wrap.style.height = H + "px";
  wrap.appendChild(chart);
  fig.appendChild(wrap);
}

// ---------- legend (top-left panel) ----------
const legend = document.createElement("div");
legend.id = "legend";
legend.style.left = "213px";
legend.style.top = "73px";
legend.style.width = "545px";
legend.style.height = "225px";
const itemY = [33, 86, 140, 193];
seriesNames.forEach((name, i) => {
  const item = document.createElement("div");
  item.className = "lg-item";
  item.style.top = itemY[i] + "px";
  const dot = document.createElement("div");
  dot.className = "lg-dot";
  dot.style.left = "60px";
  dot.style.background = seriesColors[i];
  const txt = document.createElement("div");
  txt.className = "lg-txt";
  txt.style.left = "120px";
  txt.textContent = name;
  item.appendChild(dot);
  item.appendChild(txt);
  legend.appendChild(item);
});
fig.appendChild(legend);
</script>
</body>
</html>
